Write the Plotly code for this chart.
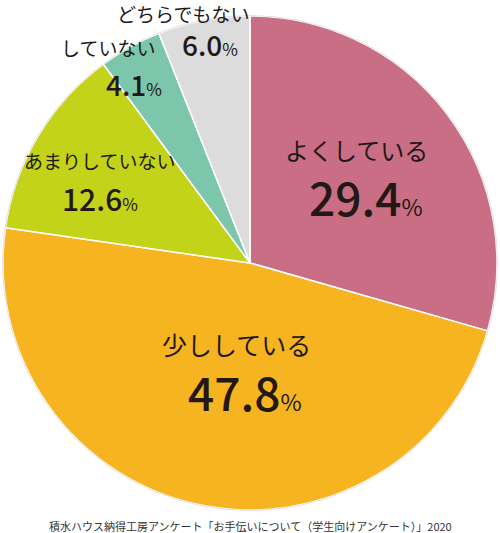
import plotly.graph_objects as go

labels = ["よくしている", "少ししている", "あまりしていない", "していない", "どちらでもない"]
values = [29.4, 47.8, 12.6, 4.1, 6.0]
colors = ["#C96E85", "#F7B421", "#C2D31A", "#7CC6AB", "#DCDCDC"]
source = "積水ハウス納得工房アンケート「お手伝いについて（学生向けアンケート）」2020"

W, H = 500, 533
FONT = "Noto Sans CJK JP"
INK = "#231815"

fig = go.Figure(go.Pie(
    labels=labels, values=values, sort=False, direction="clockwise", rotation=0,
    marker=dict(colors=colors, line=dict(color="white", width=1.5)),
    textinfo="none", hoverinfo="label+value", showlegend=False,
    domain=dict(x=[2 / W, 498 / W], y=[1 - 510 / H, 1 - 16 / H]),
))

# label placement (pixel centres): (label x, label y, label size, value x, value y, value size, pct size)
place = [
    (356, 149, 24, 366, 196, 46, 23),
    (236, 344, 25, 245, 391, 46, 23),
    (99, 160, 19, 100, 198, 30, 17),
    (108, 47, 19, 134, 84, 28, 17),
    (183, 13, 19, 210, 44, 28, 17),
]
ann = []
for lab, val, (lx, ly, ls, vx, vy, vs, ps) in zip(labels, values, place):
    ann.append(dict(x=lx / W, y=1 - ly / H, xref="paper", yref="paper", text=lab,
                    showarrow=False, font=dict(family=FONT, size=ls, color=INK),
                    xanchor="center", yanchor="middle"))
    ann.append(dict(x=vx / W, y=1 - vy / H, xref="paper", yref="paper",
                    text=f"{val:.1f}<span style='font-size:{ps}px;font-weight:normal'>%</span>",
                    showarrow=False, font=dict(family=FONT, size=vs, color=INK, weight=500),
                    xanchor="center", yanchor="middle"))
ann.append(dict(x=250 / W, y=1 - 526 / H, xref="paper", yref="paper", text=source,
                showarrow=False, font=dict(family=FONT, size=11, color="#333333"),
                xanchor="center", yanchor="middle"))

fig.update_layout(
    width=W, height=H, margin=dict(l=0, r=0, t=0, b=0),
    paper_bgcolor="white", plot_bgcolor="white",
    annotations=ann,
    shapes=[dict(type="circle", xref="paper", yref="paper",
                 x0=2.5 / W, x1=497.5 / W, y0=1 - 510.5 / H, y1=1 - 15.5 / H,
                 line=dict(color="rgba(0,0,0,0.12)", width=1), layer="above")],
)
fig.write_html("out.html", config={"displayModeBar": False},
               post_script="document.body.style.margin='0';document.body.style.overflow='hidden';")
